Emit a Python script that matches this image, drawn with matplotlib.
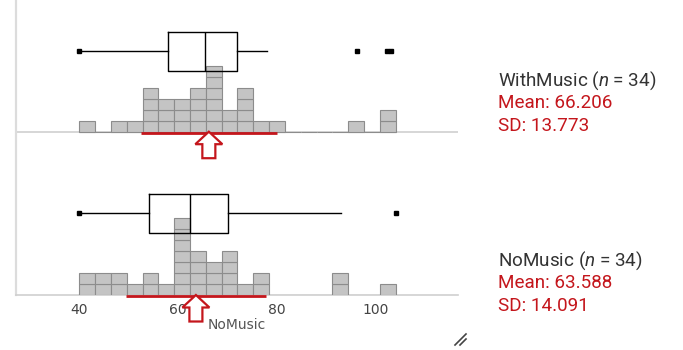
import matplotlib
matplotlib.use("Agg")
import matplotlib.pyplot as plt
from matplotlib.patches import Polygon
from matplotlib.lines import Line2D
import numpy as np

# ---- data ----
bin_start = 40.0
bin_width = 3.2
with_counts = [1, 0, 1, 1, 4, 3, 3, 4, 6, 2, 4, 1, 1, 0, 0, 0, 0, 1, 0, 2]
no_counts = [2, 2, 2, 1, 2, 1, 7, 4, 3, 4, 1, 2, 0, 0, 0, 0, 2, 0, 0, 1]

with_box = dict(whislo=40.0, q1=57.9, med=65.4, q3=72.0, whishi=77.9,
                fliers=[96.1, 102.2, 103.0])
no_box = dict(whislo=40.0, q1=54.0, med=62.4, q3=70.0, whishi=92.9,
              fliers=[104.0])

groups = ["WithMusic", "NoMusic"]
n_obs = [34, 34]
means = [66.206, 63.588]
sds = [13.773, 14.091]

xticks = [40, 60, 80, 100]
xlabel = "NoMusic"

# ---- styling / layout (pixel units on the y axis) ----
W, H = 683, 350
RED = "#c4161c"
baselines = [131.7, 295.0]
box_pos = [51.0, 213.3]
box_h = 39
sq_h = 11
text_y = [(80.7, 103.3, 126.0), (260.7, 283.3, 306.0)]

plt.rcParams["mathtext.fontset"] = "custom"
plt.rcParams["mathtext.rm"] = "Roboto"
plt.rcParams["mathtext.it"] = "Roboto:italic"

fig = plt.figure(figsize=(W / 100, H / 100), dpi=100)
ax = fig.add_axes([16 / W, (H - 295) / H, 442 / W, 295 / H])
xmin, xmax = 27.2, 116.6
ax.set_xlim(xmin, xmax)
ax.set_ylim(295, 0)
upp = (xmax - xmin) / 442.0  # data units per pixel

for sp in ["top", "right"]:
    ax.spines[sp].set_visible(False)
ax.spines["left"].set_color("#dcdcdc")
ax.spines["left"].set_linewidth(1.6)
ax.spines["bottom"].set_color("#cfcfcf")
ax.spines["bottom"].set_linewidth(1.2)
ax.set_yticks([])
ax.set_xticks(xticks)
ax.tick_params(axis="x", length=0, pad=5.5, labelsize=10, labelcolor="#444444")
ax.set_xlabel(xlabel, fontsize=10, color="#555555", labelpad=1)

ax.axhline(baselines[0], color="#cfcfcf", lw=1.2, zorder=1)

edges = bin_start + bin_width * np.arange(len(no_counts))
for counts, base in zip([with_counts, no_counts], baselines):
    counts = np.array(counts)
    # empty bins drawn as flat outlines on the baseline
    ax.bar(edges, np.zeros_like(counts) + 0.01, bottom=base, width=bin_width,
           align="edge", color="#c4c4c4", edgecolor="#8c8c8c", lw=0.8, zorder=2)
    for k in range(counts.max()):
        sel = counts > k
        ax.bar(edges[sel], -sq_h, bottom=base - k * sq_h, width=bin_width,
               align="edge", color="#c4c4c4", edgecolor="#8c8c8c", lw=0.8,
               zorder=3)

for stats, pos in zip([with_box, no_box], box_pos):
    ax.bxp([stats], positions=[pos], widths=box_h, orientation="horizontal",
           showcaps=False, manage_ticks=False, patch_artist=False,
           boxprops=dict(color="black", lw=1.0),
           whiskerprops=dict(color="black", lw=1.0),
           medianprops=dict(color="black", lw=1.0),
           flierprops=dict(marker="s", markersize=3, markerfacecolor="black",
                           markeredgecolor="black"), zorder=4)
    ax.plot([stats["whislo"]], [pos], "s", ms=3, color="black", zorder=5)

# mean +/- SD bar and mean arrow
head_hw, shaft_hw, head_h, total_h = 13.5, 6.5, 12.5, 26.5
for m, s, base in zip(means, sds, baselines):
    ax.plot([m - s, m + s], [base + 1.2, base + 1.2], color=RED, lw=2,
            solid_capstyle="butt", zorder=6, clip_on=False)
    pts = [(m, base),
           (m + head_hw * upp, base + head_h),
           (m + shaft_hw * upp, base + head_h),
           (m + shaft_hw * upp, base + total_h),
           (m - shaft_hw * upp, base + total_h),
           (m - shaft_hw * upp, base + head_h),
           (m - head_hw * upp, base + head_h)]
    ax.add_patch(Polygon(pts, closed=True, facecolor="white", edgecolor=RED,
                         lw=1.6, joinstyle="miter", zorder=7, clip_on=False))

# side statistics
fs = 13.6
for g, n, m, s, ys in zip(groups, n_obs, means, sds, text_y):
    fig.text(498 / W, 1 - ys[0] / H, g + r" ($n$ = %d)" % n, fontsize=fs,
             family="Roboto", color="#333333", va="center")
    fig.text(498 / W, 1 - ys[1] / H, "Mean: %.3f" % m, fontsize=fs,
             family="Roboto", color=RED, va="center")
    fig.text(498 / W, 1 - ys[2] / H, "SD: %.3f" % s, fontsize=fs,
             family="Roboto", color=RED, va="center")

# little resize grip in the corner
for off in (0, 5):
    fig.add_artist(Line2D([(455 + off) / W, (466) / W],
                          [1 - 345 / H, 1 - (334 + off) / H],
                          color="#444444", lw=1.2))

fig.savefig("out.png", dpi=100)
